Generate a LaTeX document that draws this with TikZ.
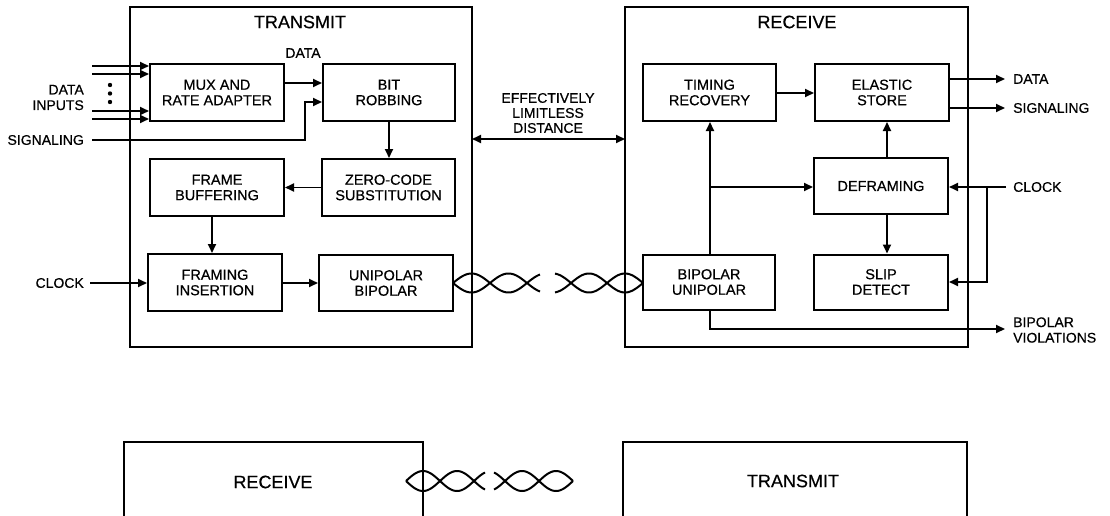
\documentclass[tikz,border=0pt]{standalone}
\usepackage{fontspec}
\setmainfont{Liberation Sans}[FakeBold=0.5]
\usetikzlibrary{arrows.meta,calc}
\begin{document}
\begin{tikzpicture}[x=1pt,y=-1pt,
  blk/.style={draw,line width=2pt,inner sep=0pt,align=center,minimum width=134pt,minimum height=57pt,font=\fontsize{14.5}{15.5}\selectfont},
  arr/.style={line width=1.8pt,-{Triangle[length=9pt,width=8pt]}},
  darr/.style={line width=1.8pt,{Triangle[length=9pt,width=8pt]}-{Triangle[length=9pt,width=8pt]}},
  lbl/.style={font=\fontsize{14}{15.5}\selectfont,inner sep=0pt},
  ttl/.style={font=\fontsize{18}{20}\selectfont,inner sep=0pt},
  wire/.style={line width=2pt},
  bigbox/.style={line width=2pt}]
\useasboundingbox (0,0) rectangle (1110,516);

% ---------------- big boxes
\draw[bigbox] (130,7) rectangle (472,347);
\draw[bigbox] (625,7) rectangle (968,347);
\node[ttl] (ttx) at (300,22) {TRANSMIT};
\node[ttl] (trx) at (797,22) {RECEIVE};
\coordinate (txe) at (472,139);
\coordinate (rxw) at (625,139);

% ---------------- transmit blocks
\node[blk] (mux) at (217,92.5) {MUX AND\\RATE ADAPTER};
\node[blk,minimum width=132pt] (bit) at (389,92.5) {BIT\\ROBBING};
\node[blk,minimum width=133pt] (zero) at (388.5,187.5) {ZERO-CODE\\SUBSTITUTION};
\node[blk] (fbuf) at (217,187.5) {FRAME\\BUFFERING};
\node[blk] (fins) at (215,282.5) {FRAMING\\INSERTION};
\node[blk,minimum height=56pt] (unib) at (386,283) {UNIPOLAR\\BIPOLAR};

% ---------------- receive blocks
\node[blk,minimum width=133pt] (tim) at (709.5,92.5) {TIMING\\RECOVERY};
\node[blk] (ela) at (882,92.5) {ELASTIC\\STORE};
\node[blk,minimum height=56pt] (defr) at (881,186) {DEFRAMING};
\node[blk,minimum width=132pt,minimum height=55pt] (bipu) at (709,282) {BIPOLAR\\UNIPOLAR};
\node[blk,minimum height=55pt] (slip) at (881,282) {SLIP\\DETECT};

% ---------------- data inputs
\node[lbl,anchor=east,align=right] (din) at (84,97.5) {DATA\\INPUTS};
\foreach \i/\yy in {1/66,2/74,3/111,4/119}{
  \coordinate (d\i) at (92,\yy);
  \draw[arr] (d\i) -- (d\i -| mux.west);
}
\foreach \yy in {85,93.5,102}{
  \fill (110,\yy) circle (2.2pt);
}
\node[lbl,anchor=east] (sig) at (84,140) {SIGNALING};
\coordinate (s0) at (92,140);
\coordinate (s1) at (305,140);
\coordinate (s2) at (305,102);
\draw[arr] (s0) -- (s1) -- (s2) -- (s2 -| bit.west);

\coordinate (dy) at (0,83);
\draw[arr] (mux.east |- dy) -- (bit.west |- dy);
\node[lbl] (datal) at (303,53) {DATA};

\coordinate (bx) at (389,0);
\draw[arr] (bit.south -| bx) -- (zero.north -| bx);
\draw[arr] (zero.west) -- (fbuf.east);
\coordinate (fb) at (212,0);
\draw[arr] (fbuf.south -| fb) -- (fins.north -| fb);
\node[lbl,anchor=east] (clkl) at (84,283) {CLOCK};
\coordinate (c0) at (90,283);
\draw[arr] (c0) -- (c0 -| fins.west);
\draw[arr] (fins.east |- unib.west) -- (unib.west);

% ---------------- link
\draw[darr] (txe) -- (rxw);
\node[lbl,align=center,font=\fontsize{14}{15}\selectfont] (eff) at (548,113) {EFFECTIVELY\\LIMITLESS\\DISTANCE};

% twisted pairs (upper)
\draw[wire] plot[domain=453:540,samples=80] (\x,{283-9.5*sin(180*(\x-453)/37)});
\draw[wire] plot[domain=453:540,samples=80] (\x,{283+9.5*sin(180*(\x-453)/37)});
\draw[wire] plot[domain=555:643,samples=80] (\x,{283-9.5*sin(180*(643-\x)/36)});
\draw[wire] plot[domain=555:643,samples=80] (\x,{283+9.5*sin(180*(643-\x)/36)});

% ---------------- receive connections
\coordinate (ty) at (0,93);
\draw[arr] (tim.east |- ty) -- (ela.west |- ty);
\coordinate (o1) at (1005,79);
\coordinate (o2) at (1005,108);
\draw[arr] (ela.east |- o1) -- (o1);
\draw[arr] (ela.east |- o2) -- (o2);
\node[lbl,anchor=west] (odata) at (1013,79) {DATA};
\node[lbl,anchor=west] (osig) at (1013,108) {SIGNALING};

\coordinate (vx) at (710,0);
\draw[arr] (bipu.north -| vx) -- (tim.south -| vx);
\coordinate (br) at (710,187);
\draw[arr] (br) -- (br -| defr.west);
\coordinate (ex) at (887,0);
\draw[arr] (defr.north -| ex) -- (ela.south -| ex);
\draw[arr] (defr.south -| ex) -- (slip.north -| ex);

\node[lbl,anchor=west] (clkr) at (1013,187) {CLOCK};
\coordinate (k0) at (1006,187);
\coordinate (k1) at (987,187);
\coordinate (k2) at (987,282);
\draw[arr] (k0) -- (k0 -| defr.east);
\draw[arr] (k1) -- (k2) -- (k2 -| slip.east);

\coordinate (v1) at (710,329);
\coordinate (v2) at (1005,329);
\draw[arr] (bipu.south -| vx) -- (v1) -- (v2);
\node[lbl,anchor=west,align=left] (bv) at (1013,330) {BIPOLAR\\VIOLATIONS};

% ---------------- lower section
\draw[bigbox] (124,520) -- (124,442) -- (423,442) -- (423,520);
\draw[bigbox] (623,520) -- (623,442) -- (967,442) -- (967,520);
\node[ttl] (lrx) at (273,482) {RECEIVE};
\node[ttl] (ltx) at (793,481) {TRANSMIT};
\draw[wire] plot[domain=406:485,samples=80] (\x,{481-10*sin(180*(\x-406)/34)});
\draw[wire] plot[domain=406:485,samples=80] (\x,{481+10*sin(180*(\x-406)/34)});
\draw[wire] plot[domain=494:573,samples=80] (\x,{481-10*sin(180*(573-\x)/34)});
\draw[wire] plot[domain=494:573,samples=80] (\x,{481+10*sin(180*(573-\x)/34)});
\end{tikzpicture}
\end{document}
